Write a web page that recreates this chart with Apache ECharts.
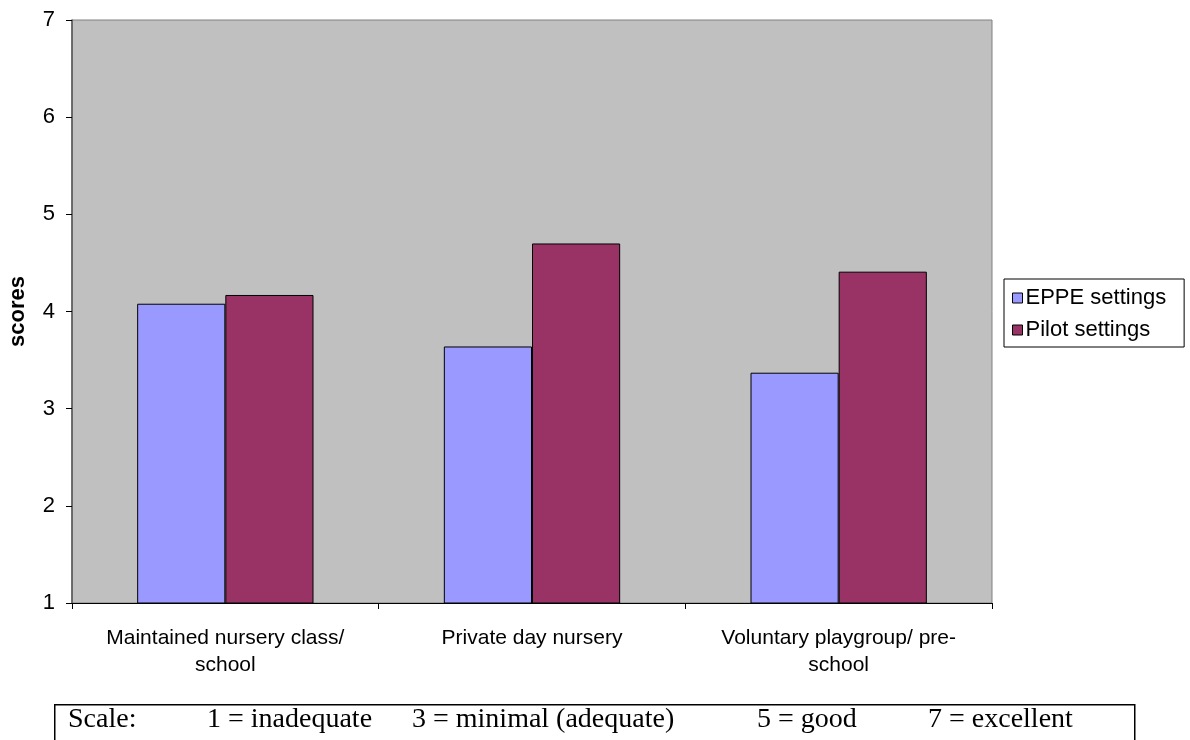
<!DOCTYPE html>
<html>
<head>
<meta charset="utf-8">
<script src="https://cdn.jsdelivr.net/npm/echarts@6/dist/echarts.min.js"></script>
<style>
  html, body { margin: 0; padding: 0; background: #ffffff; }
  #chart { width: 1190px; height: 740px; }
</style>
</head>
<body>
<div id="chart"></div>
<script>
// Setting types and mean scores
const categories = ['Maintained nursery class/\nschool', 'Private day nursery', 'Voluntary playgroup/ pre-\nschool'];
const eppeScores = [4.08, 3.64, 3.37];
const pilotScores = [4.17, 4.70, 4.41];
const seriesNames = ['EPPE settings', 'Pilot settings'];
const yTicks = { min: 1, max: 7, interval: 1 };
const scaleNotes = ['Scale:', '1 = inadequate', '3 = minimal (adequate)', '5 = good', '7 = excellent'];
const scaleNoteX = [68, 207, 412, 757, 928];

const chart = echarts.init(document.getElementById('chart'), null, { renderer: 'canvas' });

const sansFont = 'Liberation Sans, Arial, sans-serif';
const serifFont = 'Liberation Serif, Times New Roman, serif';

chart.setOption({
  animation: false,
  backgroundColor: '#ffffff',
  grid: {
    left: 72, top: 20, right: 198, bottom: 137,
    containLabel: false,
    outerBoundsMode: 'none',
    show: true, backgroundColor: '#C0C0C0', borderColor: '#808080', borderWidth: 1
  },
  legend: {
    orient: 'vertical',
    left: 1004, top: 279,
    width: 180,
    padding: [8, 18, 6, 8],
    itemGap: 10,
    itemWidth: 10, itemHeight: 10,
    borderColor: '#000000', borderWidth: 1,
    icon: 'rect',
    textStyle: { fontFamily: sansFont, fontSize: 22, color: '#000000', padding: [0, 0, 0, -2] },
    data: seriesNames.map(n => ({ name: n, itemStyle: { borderColor: '#000', borderWidth: 1 } }))
  },
  xAxis: {
    type: 'category',
    data: categories,
    axisLine: { lineStyle: { color: '#000000', width: 1 } },
    axisTick: { show: true, length: 6, lineStyle: { color: '#000000' } },
    axisLabel: {
      fontFamily: sansFont, fontSize: 21, color: '#000000',
      margin: 22, lineHeight: 27, interval: 0, align: 'center'
    }
  },
  yAxis: {
    type: 'value',
    min: yTicks.min, max: yTicks.max, interval: yTicks.interval,
    name: 'scores',
    nameLocation: 'middle',
    nameGap: 43,
    nameRotate: 90,
    nameTextStyle: { fontFamily: sansFont, fontSize: 22, fontWeight: 'bold', color: '#000000' },
    axisLine: { show: true, lineStyle: { color: '#555555', width: 1.5 } },
    axisTick: { show: true, length: 6, lineStyle: { color: '#000000' } },
    axisLabel: { fontFamily: sansFont, fontSize: 22, color: '#000000', margin: 17 },
    splitLine: { show: false }
  },
  series: [
    {
      name: seriesNames[0], type: 'bar', data: eppeScores,
      barGap: '0%', barCategoryGap: '42.5%',
      itemStyle: { color: '#9999FF', borderColor: '#000000', borderWidth: 1 }
    },
    {
      name: seriesNames[1], type: 'bar', data: pilotScores,
      barGap: '0%', barCategoryGap: '42.5%',
      itemStyle: { color: '#993366', borderColor: '#000000', borderWidth: 1 }
    }
  ],
  graphic: [
    {
      type: 'rect', left: 54, top: 704,
      shape: { width: 1080, height: 50 },
      style: { fill: '#ffffff', stroke: '#000000', lineWidth: 1.5 }
    }
  ].concat(scaleNotes.map((t, i) => ({
    type: 'text', left: scaleNoteX[i], top: 706,
    style: { text: t, fontFamily: serifFont, fontSize: 28, fill: '#000000' }
  })))
});
</script>
</body>
</html>
